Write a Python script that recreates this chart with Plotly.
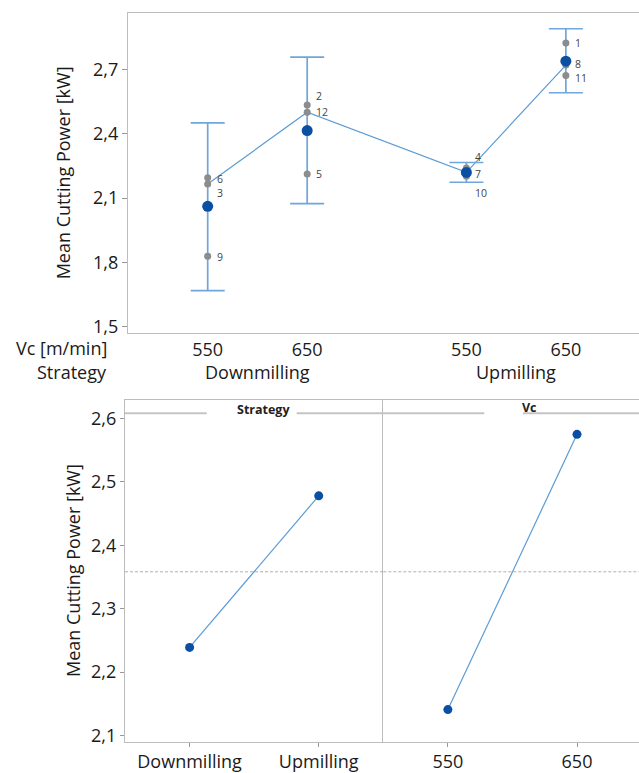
import numpy as np
import plotly.graph_objects as go

# ---------------- data: top interval plot ----------------
vc_labels = ['550', '650', '550', '650']
strategy_labels = ['Downmilling', 'Upmilling']
group_pos = [0.0, 1.0, 2.6, 3.6]
group_means = [2.062, 2.415, 2.220, 2.738]
ci_low = [1.669, 2.074, 2.174, 2.591]
ci_high = [2.451, 2.757, 2.266, 2.889]
obs_group = [0, 0, 0, 1, 1, 1, 2, 2, 2, 3, 3, 3]
obs_id = [6, 3, 9, 2, 12, 5, 4, 7, 10, 1, 8, 11]
obs_val = [2.195, 2.166, 1.829, 2.534, 2.500, 2.212, 2.240, 2.220, 2.202, 2.823, 2.720, 2.671]
top_yticks = [1.5, 1.8, 2.1, 2.4, 2.7]

# ---------------- data: bottom main effects plot ----------------
strategy_means = [2.239, 2.478]
vc_levels = ['550', '650']
vc_means = [2.141, 2.575]
bottom_yticks = [2.1, 2.2, 2.3, 2.4, 2.5, 2.6]

# ---------------- style ----------------
W, H = 639, 773
FONT = 'Open Sans'
BLUE = '#0b4fa3'
LBLUE = '#5b9bd5'
EBLUE = '#6fa6dc'
GRAY_PT = '#8c8c8c'
AXIS = '#bdbdbd'
TXT = '#1a1a1a'
label_dy = [-1, -9, -1, 9, 0, 0, 11, -2, -17, 0, 1, -2]


def px(xp):
    return xp / W


def py(yp):
    return 1 - yp / H


obs_x = [group_pos[g] for g in obs_group]
medians = [float(np.median([v for v, g in zip(obs_val, obs_group) if g == k])) for k in range(len(group_pos))]
grand_mean = float(np.mean(strategy_means + vc_means))

fig = go.Figure()

# median connect line
fig.add_trace(go.Scatter(x=group_pos, y=medians, mode='lines',
                         line=dict(color=LBLUE, width=1.2), xaxis='x', yaxis='y',
                         showlegend=False, hoverinfo='skip'))
# intervals
fig.add_trace(go.Scatter(
    x=group_pos, y=group_means, mode='markers',
    marker=dict(color='rgba(0,0,0,0)', size=1),
    error_y=dict(type='data', symmetric=False,
                 array=[h - m for h, m in zip(ci_high, group_means)],
                 arrayminus=[m - l for m, l in zip(group_means, ci_low)],
                 color=EBLUE, thickness=1.7, width=17),
    xaxis='x', yaxis='y', showlegend=False, hoverinfo='skip'))
# individual observations
fig.add_trace(go.Scatter(x=obs_x, y=obs_val, mode='markers',
                         marker=dict(color=GRAY_PT, size=7), xaxis='x', yaxis='y',
                         showlegend=False))
# means
fig.add_trace(go.Scatter(x=group_pos, y=group_means, mode='markers',
                         marker=dict(color=BLUE, size=11), xaxis='x', yaxis='y',
                         showlegend=False))

# bottom main effects
fig.add_trace(go.Scatter(x=strategy_labels, y=strategy_means, mode='lines+markers',
                         line=dict(color=LBLUE, width=1.2),
                         marker=dict(color=BLUE, size=9),
                         xaxis='x2', yaxis='y2', showlegend=False))
fig.add_trace(go.Scatter(x=vc_levels, y=vc_means, mode='lines+markers',
                         line=dict(color=LBLUE, width=1.2),
                         marker=dict(color=BLUE, size=9),
                         xaxis='x3', yaxis='y3', showlegend=False))

annotations = []
for xv, yv, lab, dy in zip(obs_x, obs_val, obs_id, label_dy):
    annotations.append(dict(x=xv, y=yv, xref='x', yref='y', text=str(lab), showarrow=False,
                            xanchor='left', yanchor='middle', xshift=8, yshift=dy, borderpad=0,
                            font=dict(family=FONT, size=10.5, color='#444444')))

# group labels for top chart
for i, s in enumerate(strategy_labels):
    annotations.append(dict(x=(group_pos[2 * i] + group_pos[2 * i + 1]) / 2, y=py(375), xref='x', yref='paper',
                            text=s, showarrow=False, xanchor='center', yanchor='middle',
                            font=dict(family=FONT, size=18, color=TXT)))
annotations.append(dict(x=px(109), y=py(351.5), xref='paper', yref='paper', text='Vc [m/min]',
                        showarrow=False, xanchor='right', yanchor='middle',
                        font=dict(family=FONT, size=18, color=TXT)))
annotations.append(dict(x=px(109), y=py(375), xref='paper', yref='paper', text='Strategy',
                        showarrow=False, xanchor='right', yanchor='middle',
                        font=dict(family=FONT, size=18, color=TXT)))

# panel headers
annotations.append(dict(x=px(263), y=py(413.5), xref='paper', yref='paper', text='<b>Strategy</b>',
                        showarrow=False, xanchor='center', yanchor='middle', borderpad=0,
                        font=dict(family=FONT, size=12.5, color='#222222')))
annotations.append(dict(x=px(529.5), y=py(411), xref='paper', yref='paper', text='<b>Vc</b>',
                        showarrow=False, xanchor='center', yanchor='middle', borderpad=0,
                        font=dict(family=FONT, size=12.5, color='#222222')))

shapes = []
for x0, x1 in [(125, 206.7), (296.7, 484.3), (523, 639)]:
    shapes.append(dict(type='line', xref='paper', yref='paper', x0=px(x0), x1=px(x1),
                       y0=py(417), y1=py(417), line=dict(color='#c4c4c4', width=2)))
for xa, ya in [('x2', 'y2'), ('x3', 'y3')]:
    shapes.append(dict(type='line', xref=xa + ' domain', yref=ya, x0=0, x1=1,
                       y0=grand_mean, y1=grand_mean,
                       line=dict(color='#b0b0b0', width=1, dash='3px,2px')))

common_axis = dict(showgrid=False, zeroline=False, showline=True, linecolor=AXIS, linewidth=1.3,
                   tickfont=dict(family=FONT, size=18, color=TXT), tickcolor='#999999')

fig.update_layout(
    width=W, height=H, margin=dict(l=0, r=0, t=0, b=0),
    paper_bgcolor='white', plot_bgcolor='white',
    separators=',.',
    font=dict(family=FONT, color=TXT),
    xaxis=dict(common_axis, domain=[px(128), 1], anchor='y', range=[-0.801, 4.335],
               tickmode='array', tickvals=group_pos, ticktext=vc_labels, ticks='', mirror=True),
    yaxis=dict(common_axis, domain=[py(336), py(13)], anchor='x', range=[1.472, 2.963],
               tickmode='array', tickvals=top_yticks, tickformat='.1f', ticks='outside', ticklen=5,
               title=dict(text='Mean Cutting Power [kW]', standoff=17,
                          font=dict(family=FONT, size=18, color=TXT))),
    xaxis2=dict(common_axis, domain=[px(125), px(383.3)], anchor='y2', type='category',
                range=[-0.5, 1.5], ticks='outside', ticklen=4, mirror=True),
    yaxis2=dict(common_axis, domain=[py(748.3), py(403.3)], anchor='x2', range=[2.0906, 2.6297],
                tickmode='array', tickvals=bottom_yticks, tickformat='.1f', ticks='outside', ticklen=4,
                title=dict(text='Mean Cutting Power [kW]', standoff=5,
                           font=dict(family=FONT, size=18, color=TXT))),
    xaxis3=dict(common_axis, domain=[px(383.3), 1], anchor='y3', type='category',
                range=[-0.5, 1.48], ticks='outside', ticklen=4, mirror=True),
    yaxis3=dict(common_axis, domain=[py(748.3), py(403.3)], anchor='x3', matches='y2',
                showticklabels=False, ticks=''),
    annotations=annotations, shapes=shapes,
)

fig.write_html('out.html')
